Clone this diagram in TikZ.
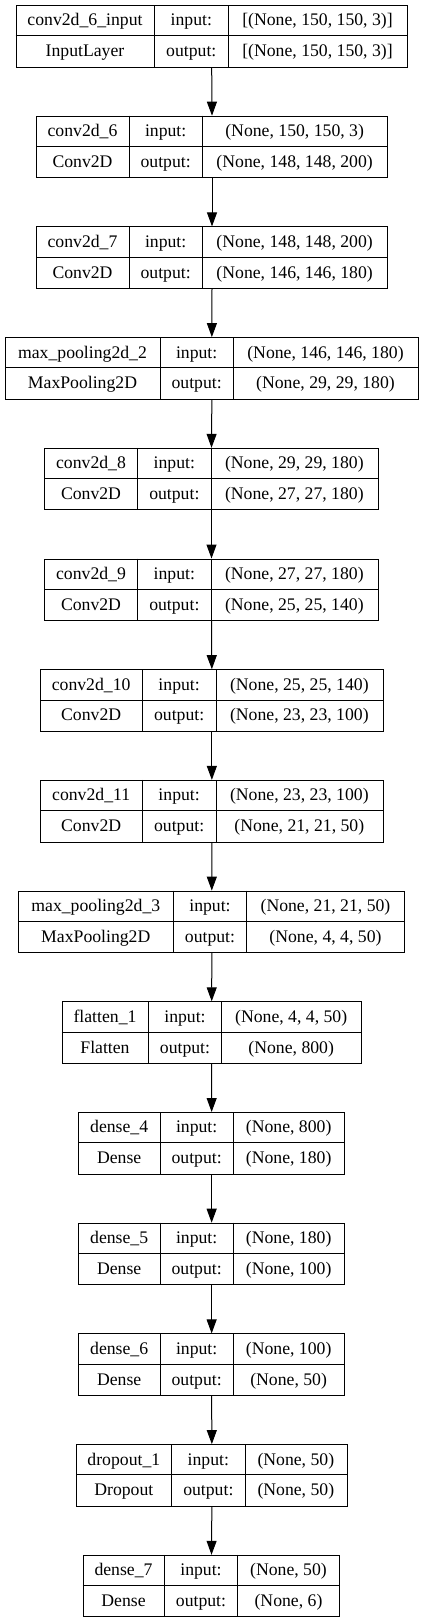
\documentclass[tikz,border=0pt]{standalone}
\usepackage{fontspec}
\setmainfont{Liberation Serif}
\usetikzlibrary{arrows.meta}
\tikzset{
  box/.style={draw=black, line width=1pt, inner sep=0pt, anchor=north west},
  sep/.style={draw=black, line width=1pt},
  txt/.style={inner sep=0pt, text height=14pt, text depth=3pt, font=\fontsize{17.7}{20}\selectfont},
  arr/.style={draw=black, line width=1pt, -{Triangle[length=14pt, width=10pt]}}
}
\newcommand\layer[9]{%
  \pgfmathsetmacro\T{5+(#1-1)*110.7}%
  \pgfmathsetmacro\B{\T+61.6}%
  \pgfmathsetmacro\M{\T+30.8}%
  \pgfmathsetmacro\W{#5-#2}%
  \node[box, minimum width=\W pt, minimum height=61.6pt] (L#1) at (#2,\T) {};
  \draw[sep] (#2,\M) -- (#5,\M);
  \draw[sep] (#3,\T) -- (#3,\B);
  \draw[sep] (#4,\T) -- (#4,\B);
  \node[txt] (n#1a) at ({(#2+#3)/2},{\T+15.4}) {#6};
  \node[txt] (n#1b) at ({(#2+#3)/2},{\T+46.2}) {#7};
  \node[txt] (i#1a) at ({(#3+#4)/2},{\T+15.4}) {input:};
  \node[txt] (i#1b) at ({(#3+#4)/2},{\T+46.2}) {output:};
  \node[txt] (s#1a) at ({(#4+#5)/2},{\T+15.4}) {#8};
  \node[txt] (s#1b) at ({(#4+#5)/2},{\T+46.2}) {#9};
}
\begin{document}
\begin{tikzpicture}[x=1pt, y=-1pt]
\useasboundingbox (0,0) rectangle (423,1623);
\layer{1}{15.7}{154.3}{228.3}{406.7}{conv2d\_6\_input}{InputLayer}{[(None, 150, 150, 3)]}{[(None, 150, 150, 3)]}
\layer{2}{36}{129}{202.3}{387}{conv2d\_6}{Conv2D}{(None, 150, 150, 3)}{(None, 148, 148, 200)}
\layer{3}{36}{129}{202.3}{387}{conv2d\_7}{Conv2D}{(None, 148, 148, 200)}{(None, 146, 146, 180)}
\layer{4}{5}{160}{233.3}{417.7}{max\_pooling2d\_2}{MaxPooling2D}{(None, 146, 146, 180)}{(None, 29, 29, 180)}
\layer{5}{44.3}{137.7}{211}{377.7}{conv2d\_8}{Conv2D}{(None, 29, 29, 180)}{(None, 27, 27, 180)}
\layer{6}{44.3}{137.7}{211}{377.7}{conv2d\_9}{Conv2D}{(None, 27, 27, 180)}{(None, 25, 25, 140)}
\layer{7}{40}{142.3}{216}{382.7}{conv2d\_10}{Conv2D}{(None, 25, 25, 140)}{(None, 23, 23, 100)}
\layer{8}{40}{142.3}{216}{382.7}{conv2d\_11}{Conv2D}{(None, 23, 23, 100)}{(None, 21, 21, 50)}
\layer{9}{18.3}{173.3}{246.7}{404.3}{max\_pooling2d\_3}{MaxPooling2D}{(None, 21, 21, 50)}{(None, 4, 4, 50)}
\layer{10}{61.7}{148.3}{221.7}{360.7}{flatten\_1}{Flatten}{(None, 4, 4, 50)}{(None, 800)}
\layer{11}{78.3}{160}{233.3}{344}{dense\_4}{Dense}{(None, 800)}{(None, 180)}
\layer{12}{78.3}{160}{233.3}{344}{dense\_5}{Dense}{(None, 180)}{(None, 100)}
\layer{13}{78.3}{160}{233.3}{344}{dense\_6}{Dense}{(None, 100)}{(None, 50)}
\layer{14}{76}{171.7}{245}{346.7}{dropout\_1}{Dropout}{(None, 50)}{(None, 50)}
\layer{15}{82.7}{164.3}{237.7}{339.3}{dense\_7}{Dense}{(None, 50)}{(None, 6)}
\foreach \a [evaluate=\a as \b using int(\a+1)] in {1,...,14}{
  \draw[arr] (L\a.south) -- (L\b.north);
}
\end{tikzpicture}
\end{document}
